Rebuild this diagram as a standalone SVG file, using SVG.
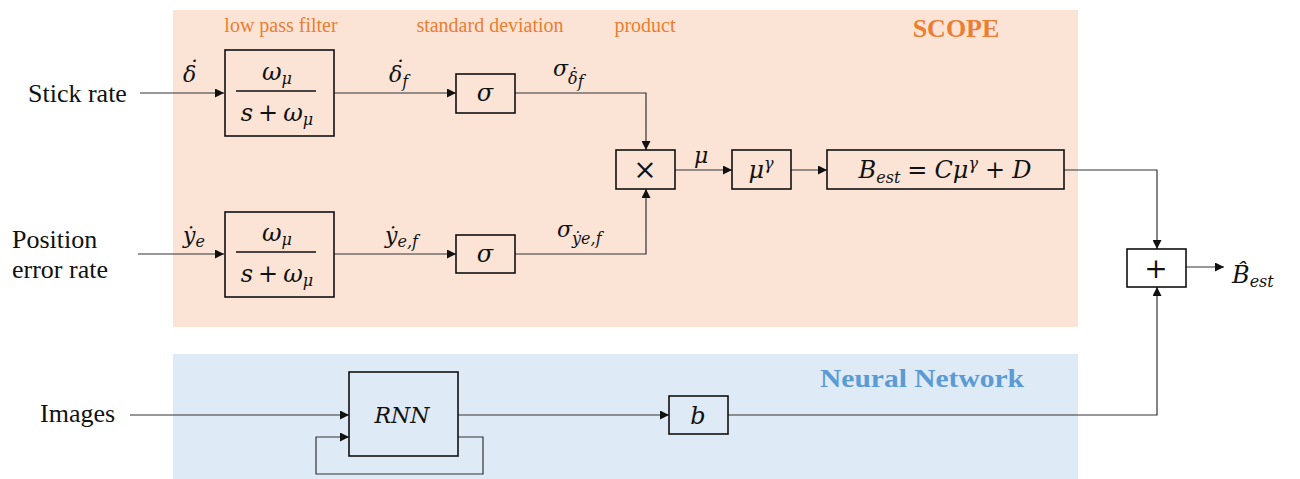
<svg xmlns="http://www.w3.org/2000/svg" width="1300" height="479" viewBox="0 0 1300 479">
<style>
.bg{fill:#fff}
.box{fill:none;stroke:#111;stroke-width:1.6}
.wire{fill:none;stroke:#333;stroke-width:1.2}
.lbl{font-family:"Liberation Serif",serif;font-size:26px;fill:#111}
.m{font-family:"DejaVu Serif",serif;font-style:italic;font-size:22px;fill:#111}
.b{font-size:24px}
.op{font-size:28px;font-style:normal}
.up{font-style:normal}
.sub{font-size:16px}
.cap{font-family:"Liberation Serif",serif;font-size:20px;fill:#ED7D31;text-anchor:middle}
.title{font-family:"Liberation Serif",serif;font-weight:bold;font-size:26px;text-anchor:middle}
.c{text-anchor:middle}
</style>
<defs>
<marker id="ah" viewBox="0 0 10 10" refX="10" refY="5" markerWidth="9" markerHeight="9" markerUnits="userSpaceOnUse" orient="auto">
<path d="M0,0 L10,5 L0,10 z" fill="#111"/>
</marker>
</defs>
<rect class="bg" x="0" y="0" width="1300" height="479"/>
<g id="scope-panel">
<rect x="173" y="10" width="905" height="317" fill="#FBE4D6"/>
<text class="title" x="956" y="37" fill="#ED7D31">SCOPE</text>
<text class="cap" x="281" y="32">low pass filter</text>
<text class="cap" x="490" y="32">standard deviation</text>
<text class="cap" x="645" y="32">product</text>
</g>
<g id="nn-panel">
<rect x="173" y="354" width="905" height="125" fill="#DEEAF6"/>
<text class="title" x="922" y="387" fill="#5B9BD5" textLength="204" lengthAdjust="spacingAndGlyphs">Neural Network</text>
</g>
<g id="connectors">
<path class="wire" d="M140,93 H224" marker-end="url(#ah)"/>
<path class="wire" d="M334,93 H456" marker-end="url(#ah)"/>
<path class="wire" d="M515,93 H646 V150" marker-end="url(#ah)"/>
<path class="wire" d="M138,254 H224" marker-end="url(#ah)"/>
<path class="wire" d="M334,254 H456" marker-end="url(#ah)"/>
<path class="wire" d="M515,254 H646 V189" marker-end="url(#ah)"/>
<path class="wire" d="M675,170 H732" marker-end="url(#ah)"/>
<path class="wire" d="M791,170 H827" marker-end="url(#ah)"/>
<path class="wire" d="M1064,170 H1157 V249" marker-end="url(#ah)"/>
<path class="wire" d="M1186,267 H1224" marker-end="url(#ah)"/>
<path class="wire" d="M130,415 H349" marker-end="url(#ah)"/>
<path class="wire" d="M458,437 H483 V474 H316 V437 H349" marker-end="url(#ah)"/>
<path class="wire" d="M458,415 H669" marker-end="url(#ah)"/>
<path class="wire" d="M728,415 H1157 V287" marker-end="url(#ah)"/>
<text class="m" x="183" y="82">δ<tspan x="187" y="77">˙</tspan></text>
<text class="m" x="389" y="82">δ<tspan class="sub" dy="5">f</tspan><tspan x="393" y="77">˙</tspan></text>
<text class="m" x="553" y="76">σ<tspan class="sub" dy="8">δ</tspan><tspan class="sub" dy="3">f</tspan><tspan class="sub" x="569" y="80">˙</tspan></text>
<text class="m" x="183" y="243">ẏ<tspan class="sub" dy="4">e</tspan></text>
<text class="m" x="385" y="243">ẏ<tspan class="sub" dy="4">e,f</tspan></text>
<text class="m" x="557" y="237">σ<tspan class="sub" dy="7">ẏ</tspan><tspan class="sub">e,f</tspan></text>
<text class="m" x="694" y="163">μ</text>
</g>
<g id="in-stick"><text class="lbl" x="28" y="102">Stick rate</text></g>
<g id="in-pos"><text class="lbl" x="12" y="248">Position</text><text class="lbl" x="12" y="278">error rate</text></g>
<g id="in-images"><text class="lbl" x="40" y="422">Images</text></g>
<g id="lpf1">
<rect class="box" x="225" y="50" width="109" height="86"/>
<line x1="236" y1="91" x2="316" y2="91" stroke="#111" stroke-width="1.5"/>
<text class="m b c" x="277" y="80">ω<tspan class="sub" dy="4">μ</tspan></text>
<text class="m b c" x="277" y="121">s<tspan class="up" dx="5">+</tspan><tspan dx="5">ω</tspan><tspan class="sub" dy="4">μ</tspan></text>
</g>
<g id="lpf2">
<rect class="box" x="225" y="212" width="109" height="85"/>
<line x1="236" y1="252" x2="316" y2="252" stroke="#111" stroke-width="1.5"/>
<text class="m b c" x="277" y="241">ω<tspan class="sub" dy="4">μ</tspan></text>
<text class="m b c" x="277" y="282">s<tspan class="up" dx="5">+</tspan><tspan dx="5">ω</tspan><tspan class="sub" dy="4">μ</tspan></text>
</g>
<g id="std1">
<rect class="box" x="456" y="74" width="59" height="39"/>
<text class="m b c" x="485" y="101">σ</text>
</g>
<g id="std2">
<rect class="box" x="456" y="235" width="59" height="38"/>
<text class="m b c" x="485" y="262">σ</text>
</g>
<g id="product">
<rect class="box" x="616" y="150" width="59" height="39"/>
<text class="m op c" x="645" y="179">×</text>
</g>
<g id="power">
<rect class="box" x="732" y="150" width="59" height="39"/>
<text class="m b c" x="761" y="178">μ<tspan class="sub" dy="-9">γ</tspan></text>
</g>
<g id="best">
<rect class="box" x="827" y="150" width="237" height="39"/>
<text class="m b c" x="945" y="178">B<tspan class="sub" dy="5">est</tspan><tspan class="up" dy="-5" dx="7">=</tspan><tspan dx="7">C</tspan>μ<tspan class="sub" dy="-9">γ</tspan><tspan class="up" dy="9" dx="7">+</tspan><tspan dx="7">D</tspan></text>
</g>
<g id="sum">
<rect class="box" x="1127" y="249" width="59" height="38"/>
<text class="m op c" x="1156" y="278">+</text>
</g>
<g id="output"><text class="m b" x="1232" y="283">B̂<tspan class="sub" dy="4">est</tspan></text></g>
<g id="rnn">
<rect class="box" x="349" y="372" width="109" height="84"/>
<text class="m c" x="402" y="423">RNN</text>
</g>
<g id="bias">
<rect class="box" x="669" y="396" width="59" height="38"/>
<text class="m b c" x="698" y="424">b</text>
</g>
</svg>
